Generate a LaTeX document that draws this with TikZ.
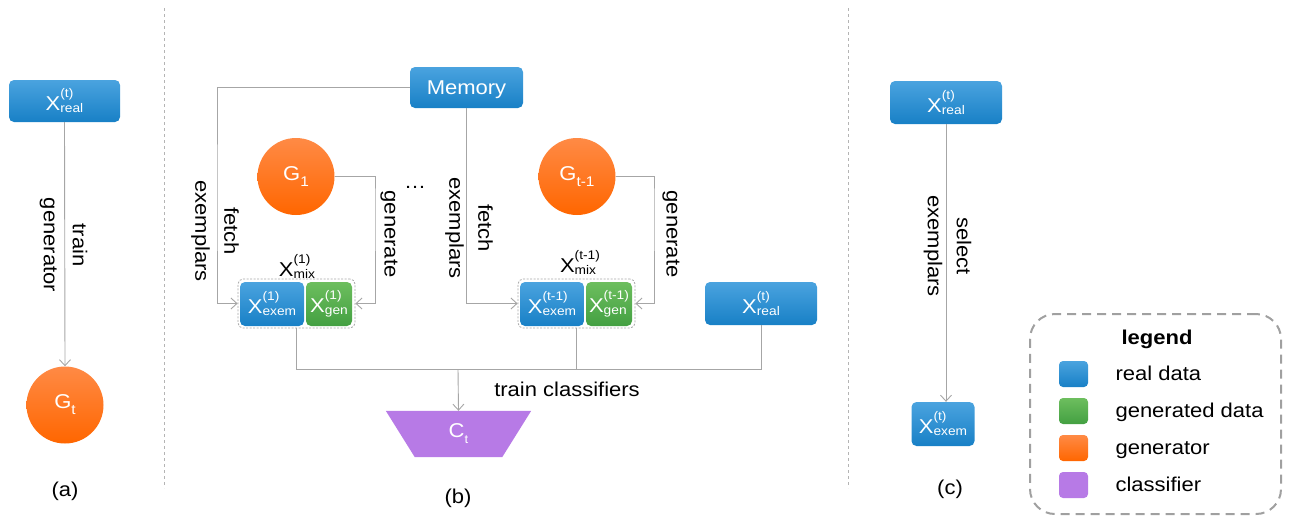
\documentclass[tikz,border=0pt]{standalone}
\usepackage{fontspec}
\setmainfont{Liberation Sans}[FakeStretch=1.1]
\usetikzlibrary{arrows.meta,calc}
\definecolor{bluetop}{HTML}{4AA3DF}
\definecolor{bluebot}{HTML}{1880C6}
\definecolor{greentop}{HTML}{6DBE5E}
\definecolor{greenbot}{HTML}{43A042}
\definecolor{orangetop}{HTML}{FF8A45}
\definecolor{orangebot}{HTML}{FF6600}
\definecolor{purp}{HTML}{B77AE6}
\definecolor{linegray}{HTML}{A6A6A6}
\definecolor{sepgray}{HTML}{B4B4B4}
\definecolor{leggray}{HTML}{A0A0A0}
\newcommand\XX[3]{{\fontsize{20}{20}\selectfont #1}\setbox0=\hbox{\fontsize{12.5}{12.5}\selectfont #2}\setbox2=\hbox{\fontsize{12.5}{12.5}\selectfont #3}\ifdim\wd0>\wd2\relax\rlap{\raisebox{13pt}{\copy0}}\hbox to\wd0{\raisebox{-2pt}{\copy2}\hss}\else\rlap{\raisebox{13pt}{\copy0}}\raisebox{-2pt}{\copy2}\fi}
\newcommand\GG[3]{{\fontsize{20}{20}\selectfont #1}\raisebox{-6pt}{\fontsize{#3}{#3}\selectfont #2}}
\begin{document}
\begin{tikzpicture}[x=1pt,y=-1pt,font=\fontsize{20}{29}\selectfont,
  conn/.style={draw=linegray,line width=0.9pt},
  arr/.style={conn,-{Straight Barb[length=6pt,width=11pt]}},
  realbox/.style={rounded corners=5pt,top color=bluetop,bottom color=bluebot,draw=none,text=white,inner sep=0pt},
  genbox/.style={rounded corners=5pt,top color=greentop,bottom color=greenbot,draw=none,text=white,inner sep=0pt},
  gencirc/.style={circle,top color=orangetop,bottom color=orangebot,draw=none,text=white,minimum size=77pt,inner sep=0pt},
  mixbox/.style={draw=linegray,line width=0.8pt,dash pattern=on 2pt off 1.5pt,rounded corners=5pt,minimum width=117pt,minimum height=49pt,inner sep=0pt},
  sep/.style={draw=sepgray,line width=0.8pt,dash pattern=on 3pt off 3pt},
  swatch/.style={rounded corners=4pt,minimum width=29pt,minimum height=26pt,inner sep=0pt,draw=none},
  rotlab/.style={rotate=-90,align=center}]
\useasboundingbox (0,0) rectangle (1293,523);
% separators
\coordinate (s1t) at (164,8); \coordinate (s1b) at (164,488);
\coordinate (s2t) at (848,8); \coordinate (s2b) at (848,488);
\draw[sep] (s1t) -- (s1b);
\draw[sep] (s2t) -- (s2b);
% ---------- panel (a)
\node[realbox,minimum width=111pt,minimum height=42pt] (xra) at (64.5,101) {\XX{X}{(t)}{real}};
\node[gencirc] (gt) at (65,405) {\GG{G}{t}{14}};
\draw[arr] (xra.south) -- (gt.north);
\node[rotlab] (lt) at (63.5,245) {train\\generator};
\node (la) at (65,491) {(a)};
% ---------- panel (b)
\node[realbox,minimum width=113pt,minimum height=41pt,text depth=0pt] (mem) at (466.5,87.5) {Memory};
\node[gencirc] (g1) at (296,176.5) {\GG{G}{1}{14}};
\node[gencirc] (g2) at (577,176.5) {\GG{G}{t-1}{14}};
\node[mixbox] (mix1) at (296.5,303.5) {};
\node[realbox,minimum width=64pt,minimum height=44pt] (ex1) at (272,304) {\XX{X}{(1)}{exem}};
\node[genbox,minimum width=46pt,minimum height=44pt] (ge1) at (329,304) {\XX{X}{(1)}{gen}};
\node (mx1) at (297,266) {\XX{X}{(1)}{mix}};
\node[mixbox] (mix2) at (576.5,303.5) {};
\node[realbox,minimum width=64pt,minimum height=44pt] (ex2) at (552,304) {\XX{X}{(t-1)}{exem}};
\node[genbox,minimum width=46pt,minimum height=44pt] (ge2) at (609,304) {\XX{X}{(t-1)}{gen}};
\node (mx2) at (580,262) {\XX{X}{(t-1)}{mix}};
\node[realbox,minimum width=112pt,minimum height=43pt] (xrb) at (761,303.5) {\XX{X}{(t)}{real}};
\coordinate (f1) at (217,200);
\coordinate (c1) at (375,200);
\coordinate (c2) at (654,200);
\draw[arr] (mem.west) -| (f1) |- (mix1.west);
\draw[arr] (g1.east) -| (c1) |- (mix1.east);
\draw[arr] (mem.south) |- (mix2.west);
\draw[arr] (g2.east) -| (c2) |- (mix2.east);
\node[rotlab] (lf1) at (215,231) {fetch\\exemplars};
\node[rotlab] (lg1) at (389,234) {generate};
\node (dots) at (415,187) {…};
\node[rotlab] (lf2) at (469,228) {fetch\\exemplars};
\node[rotlab] (lg2) at (671,234) {generate};
% classifier
\node[minimum width=145pt,minimum height=46pt,inner sep=0pt] (ct) at (458.5,434) {};
\fill[purp] (ct.north west) -- (ct.north east) -- ($(ct.south east)+(-29,0)$) -- ($(ct.south west)+(29,0)$) -- cycle;
\node[text=white] (ctl) at (ct.center) {\GG{C}{t}{12}};
\coordinate (j) at (458,369);
\draw[conn] (mix1.south) |- (j -| xrb.south) -- (xrb.south);
\draw[conn] (mix2.south) -- (mix2.south |- j);
\draw[arr] (j) -- (ct.north);
\node[anchor=base] (tc) at (567,396) {train classifiers};
\node (lb) at (458,498) {(b)};
% ---------- panel (c)
\node[realbox,minimum width=112pt,minimum height=43pt] (xrc) at (946,102.5) {\XX{X}{(t)}{real}};
\node[realbox,minimum width=63pt,minimum height=44pt] (xec) at (943,424) {\XX{X}{(t)}{exem}};
\draw[arr] (xrc.south) -- (xrc.south |- xec.north);
\node[rotlab] (ls) at (947.5,246) {select\\exemplars};
\node (lc) at (950,489) {(c)};
% ---------- legend
\node[draw=leggray,line width=2pt,dash pattern=on 9pt off 6pt,rounded corners=25pt,minimum width=251pt,minimum height=200pt,inner sep=0pt] (leg) at (1155.5,414) {};
\node[anchor=base,font=\fontsize{20}{24}\selectfont\bfseries] (legt) at (1157,344) {legend};
\node[swatch,top color=bluetop,bottom color=bluebot] (sw1) at (1073.5,374) {};
\node[swatch,top color=greentop,bottom color=greenbot] (sw2) at (1073.5,411) {};
\node[swatch,top color=orangetop,bottom color=orangebot] (sw3) at (1073.5,448) {};
\node[swatch,fill=purp] (sw4) at (1073.5,485) {};
\node[anchor=base west] (t1) at (1112,380.5) {real data};
\node[anchor=base west] (t2) at (1112,417.5) {generated data};
\node[anchor=base west] (t3) at (1112,454.5) {generator};
\node[anchor=base west] (t4) at (1112,491.5) {classifier};
\end{tikzpicture}
\end{document}
